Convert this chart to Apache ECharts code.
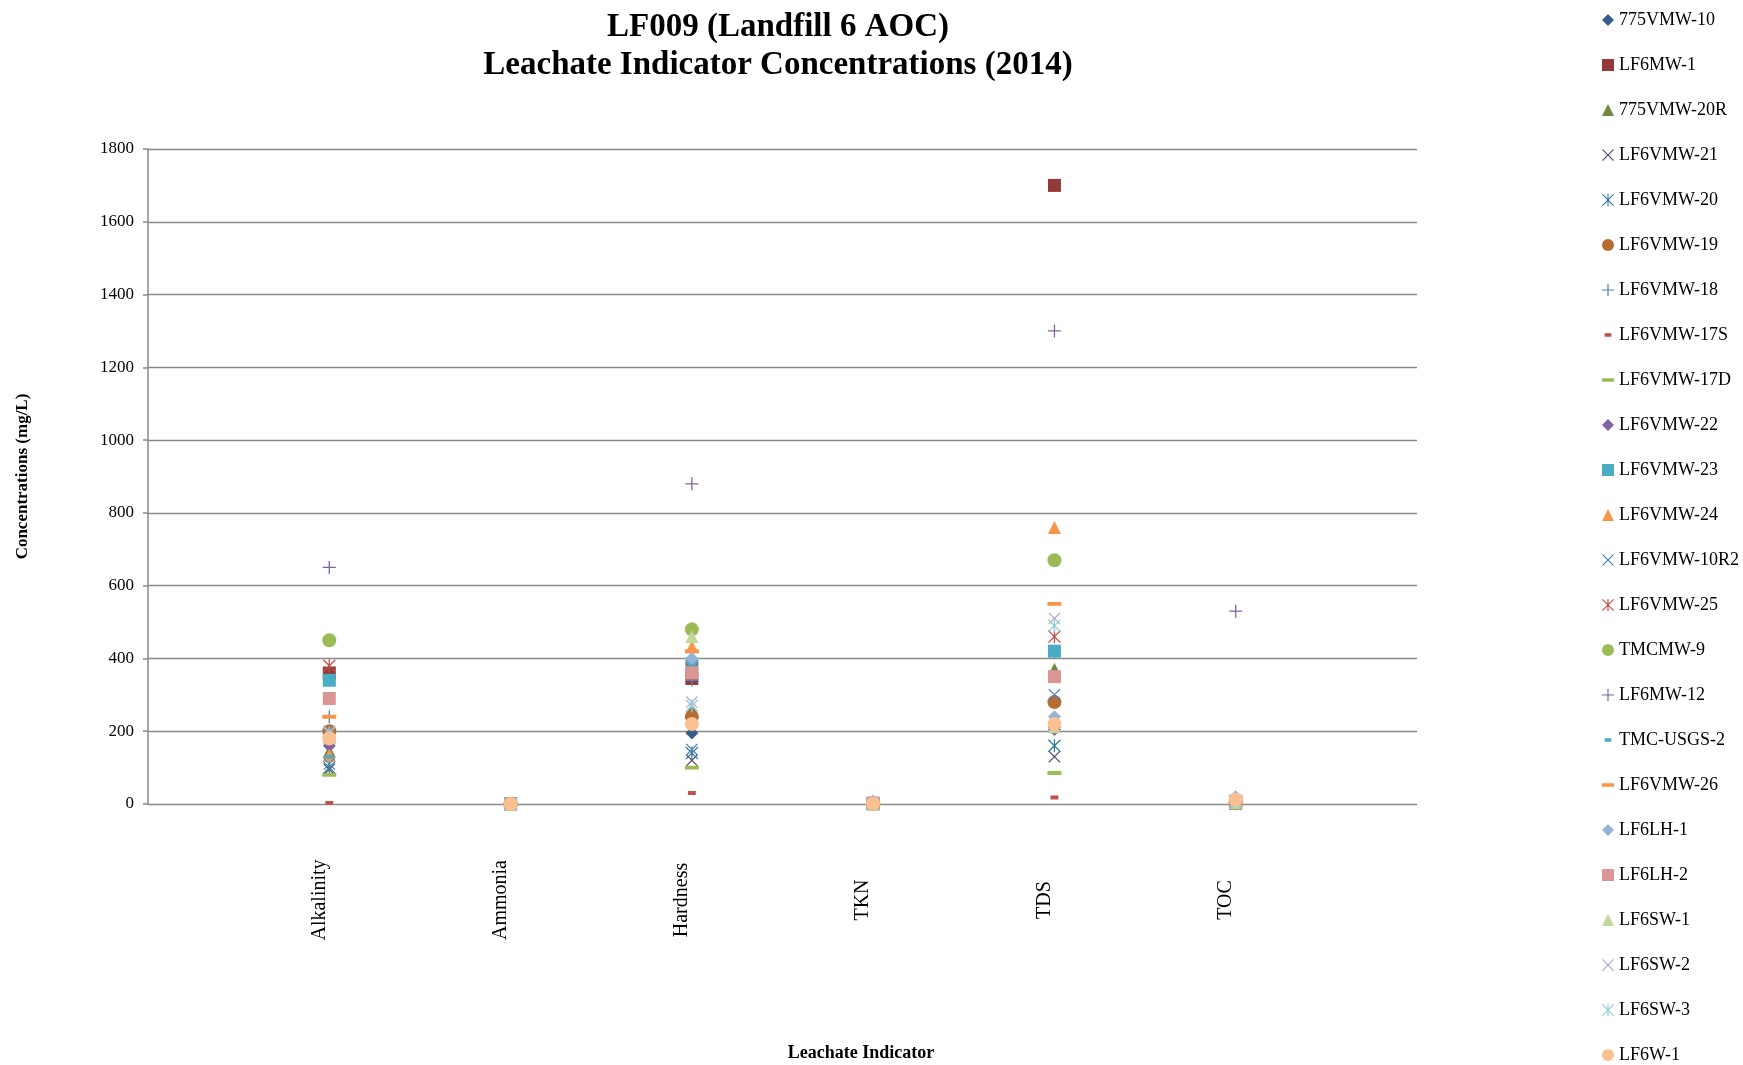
<!DOCTYPE html>
<html>
<head>
<meta charset="utf-8">
<title>LF009 Leachate Indicator Concentrations (2014)</title>
<script src="https://cdn.jsdelivr.net/npm/echarts@6/dist/echarts.min.js"></script>
<style>
  html, body { margin: 0; padding: 0; background: #ffffff; }
  #chart { width: 1743px; height: 1065px; }
</style>
</head>
<body>
<div id="chart"></div>
<script>
// Leachate indicators (x positions 1..6 on the horizontal axis)
const categories = ['Alkalinity', 'Ammonia', 'Hardness', 'TKN', 'TDS', 'TOC'];
const yTicks = [0, 200, 400, 600, 800, 1000, 1200, 1400, 1600, 1800];

// Concentrations (mg/L) per sampling location, in the order of `categories`
const w775VMW_10   = [170, 0.1, 195, 1, 210, 2];
const wLF6MW_1     = [360, 0.5, 345, 2, 1700, 5];
const w775VMW_20R  = [145, 0.1, 260, 1, 370, 2];
const wLF6VMW_21   = [95, 0.1, 120, 1, 130, 1];
const wLF6VMW_20   = [100, 0.1, 140, 1, 160, 1];
const wLF6VMW_19   = [200, 0.1, 240, 1, 280, 3];
const wLF6VMW_18   = [240, 0.1, 340, 1, 420, 2];
const wLF6VMW_17S  = [3, 0.1, 30, 1, 18, 1];
const wLF6VMW_17D  = [80, 0.1, 100, 1, 85, 1];
const wLF6VMW_22   = [160, 0.1, 225, 1, 205, 2];
const wLF6VMW_23   = [340, 0.1, 380, 1, 420, 3];
const wLF6VMW_24   = [135, 0.1, 432, 1, 760, 3];
const wLF6VMW_10R2 = [110, 0.1, 150, 1, 300, 2];
const wLF6VMW_25   = [380, 0.1, 370, 1, 460, 3];
const wTMCMW_9     = [450, 0.1, 480, 1, 670, 4];
const wLF6MW_12    = [650, 1, 880, 5, 1300, 530];
const wTMC_USGS_2  = [130, 0.1, 375, 1, 225, 2];
const wLF6VMW_26   = [240, 0.1, 420, 1, 550, 2];
const wLF6LH_1     = [190, 0.2, 400, 8, 240, 20];
const wLF6LH_2     = [290, 0.2, 360, 2, 350, 8];
const wLF6SW_1     = [185, 0.1, 460, 1, 212, 5];
const wLF6SW_2     = [200, 0.1, 280, 1, 510, 3];
const wLF6SW_3     = [195, 0.1, 270, 1, 490, 3];
const wLF6W_1      = [180, 0.2, 220, 1, 220, 12];

// Marker shapes (100x100 boxes; tiny corner squares keep the dash boxes square)
const SYM_X = 'path://M0,7L7,0L50,43L93,0L100,7L57,50L100,93L93,100L50,57L7,100L0,93L43,50Z';
const SYM_STAR = 'path://M0,7L7,0L50,43L93,0L100,7L57,50L100,93L93,100L50,57L7,100L0,93L43,50Z M45,0H55V100H45Z';
const SYM_PLUS = 'path://M45,0H55V45H100V55H55V100H45V55H0V45H45Z';
const SYM_SHORT = 'path://M0,0h0.1v0.1h-0.1Z M22,36H78V64H22Z M99.9,99.9h0.1v0.1h-0.1Z';
const SYM_LONG = 'path://M0,0h0.1v0.1h-0.1Z M0,36H100V64H0Z M99.9,99.9h0.1v0.1h-0.1Z';

const wells = [
  { name: '775VMW-10',   values: w775VMW_10,   symbol: 'diamond',  size: 13, color: '#385D8A' },
  { name: 'LF6MW-1',     values: wLF6MW_1,     symbol: 'rect',     size: 13, color: '#923A37' },
  { name: '775VMW-20R',  values: w775VMW_20R,  symbol: 'triangle', size: 13, color: '#71893F' },
  { name: 'LF6VMW-21',   values: wLF6VMW_21,   symbol: SYM_X,      size: 12, color: '#5C4776' },
  { name: 'LF6VMW-20',   values: wLF6VMW_20,   symbol: SYM_STAR,   size: 13, color: '#357D91' },
  { name: 'LF6VMW-19',   values: wLF6VMW_19,   symbol: 'circle',   size: 14, color: '#B66D31' },
  { name: 'LF6VMW-18',   values: wLF6VMW_18,   symbol: SYM_PLUS,   size: 13, color: '#4F81BD' },
  { name: 'LF6VMW-17S',  values: wLF6VMW_17S,  symbol: SYM_SHORT,  size: 14, color: '#C0504D' },
  { name: 'LF6VMW-17D',  values: wLF6VMW_17D,  symbol: SYM_LONG,   size: 14, color: '#9BBB59' },
  { name: 'LF6VMW-22',   values: wLF6VMW_22,   symbol: 'diamond',  size: 13, color: '#8064A2' },
  { name: 'LF6VMW-23',   values: wLF6VMW_23,   symbol: 'rect',     size: 13, color: '#4BACC6' },
  { name: 'LF6VMW-24',   values: wLF6VMW_24,   symbol: 'triangle', size: 13, color: '#F79646' },
  { name: 'LF6VMW-10R2', values: wLF6VMW_10R2, symbol: SYM_X,      size: 12, color: '#4A7EBB' },
  { name: 'LF6VMW-25',   values: wLF6VMW_25,   symbol: SYM_STAR,   size: 13, color: '#C0504D' },
  { name: 'TMCMW-9',     values: wTMCMW_9,     symbol: 'circle',   size: 14, color: '#9BBB59' },
  { name: 'LF6MW-12',    values: wLF6MW_12,    symbol: SYM_PLUS,   size: 13, color: '#8064A2' },
  { name: 'TMC-USGS-2',  values: wTMC_USGS_2,  symbol: SYM_SHORT,  size: 14, color: '#4BACC6' },
  { name: 'LF6VMW-26',   values: wLF6VMW_26,   symbol: SYM_LONG,   size: 14, color: '#F79646' },
  { name: 'LF6LH-1',     values: wLF6LH_1,     symbol: 'diamond',  size: 13, color: '#95B3D7' },
  { name: 'LF6LH-2',     values: wLF6LH_2,     symbol: 'rect',     size: 13, color: '#D99694' },
  { name: 'LF6SW-1',     values: wLF6SW_1,     symbol: 'triangle', size: 13, color: '#C3D69B' },
  { name: 'LF6SW-2',     values: wLF6SW_2,     symbol: SYM_X,      size: 12, color: '#B3A2C7' },
  { name: 'LF6SW-3',     values: wLF6SW_3,     symbol: SYM_STAR,   size: 13, color: '#93CDDD' },
  { name: 'LF6W-1',      values: wLF6W_1,      symbol: 'circle',   size: 14, color: '#FAC090' }
];

const SERIF = "'Liberation Serif', 'Times New Roman', serif";
const AXIS_GRAY = '#8A8A8A';

const chart = echarts.init(document.getElementById('chart'), null, { renderer: 'canvas' });

chart.setOption({
  animation: false,
  backgroundColor: '#ffffff',
  graphic: [
    { type: 'text', x: 778, y: 27, style: { text: 'LF009 (Landfill 6 AOC)', font: 'bold 33px ' + SERIF, fill: '#000', align: 'center', verticalAlign: 'middle' } },
    { type: 'text', x: 778, y: 65, style: { text: 'Leachate Indicator Concentrations (2014)', font: 'bold 33px ' + SERIF, fill: '#000', align: 'center', verticalAlign: 'middle' } },
    { type: 'text', x: 861, y: 1053, style: { text: 'Leachate Indicator', font: 'bold 18px ' + SERIF, fill: '#000', align: 'center', verticalAlign: 'middle' } }
  ],
  legend: {
    type: 'plain',
    orient: 'vertical',
    left: 1602,
    top: 10,
    padding: 0,
    height: 1055,
    itemWidth: 12,
    itemHeight: 12,
    itemGap: 25,
    textStyle: { fontFamily: SERIF, fontSize: 18, color: '#000', lineHeight: 20 },
    data: wells.map(w => w.name)
  },
  grid: { left: 148, right: 326, top: 149, bottom: 261, containLabel: false },
  xAxis: {
    type: 'value',
    min: 0,
    max: categories.length + 1,
    interval: 1,
    axisLine: { show: false },
    axisTick: { show: false },
    splitLine: { show: false },
    axisLabel: {
      rotate: 90,
      fontFamily: SERIF,
      fontSize: 20,
      color: '#000',
      margin: 96,
      align: 'center',
      verticalAlign: 'bottom',
      formatter: v => categories[v - 1] || ''
    }
  },
  yAxis: {
    type: 'value',
    min: yTicks[0],
    max: yTicks[yTicks.length - 1],
    interval: yTicks[1] - yTicks[0],
    name: 'Concentrations (mg/L)',
    nameLocation: 'middle',
    nameRotate: 90,
    nameGap: 117,
    nameTextStyle: { fontFamily: SERIF, fontSize: 17, fontWeight: 'bold', color: '#000' },
    axisLine: { show: true, lineStyle: { color: AXIS_GRAY, width: 1.5 } },
    axisTick: { show: true, inside: false, length: 5, lineStyle: { color: AXIS_GRAY, width: 1.5 } },
    splitLine: { show: true, lineStyle: { color: AXIS_GRAY, width: 1.3 } },
    axisLabel: { fontFamily: SERIF, fontSize: 17, color: '#000', margin: 14, formatter: v => String(v) }
  },
  series: wells.map(w => ({
    name: w.name,
    type: 'scatter',
    symbol: w.symbol,
    symbolSize: w.size,
    itemStyle: { color: w.color, opacity: 1 },
    emphasis: { disabled: true },
    data: w.values.map((v, i) => (v == null ? null : [i + 1, v]))
  }))
});
</script>
</body>
</html>
